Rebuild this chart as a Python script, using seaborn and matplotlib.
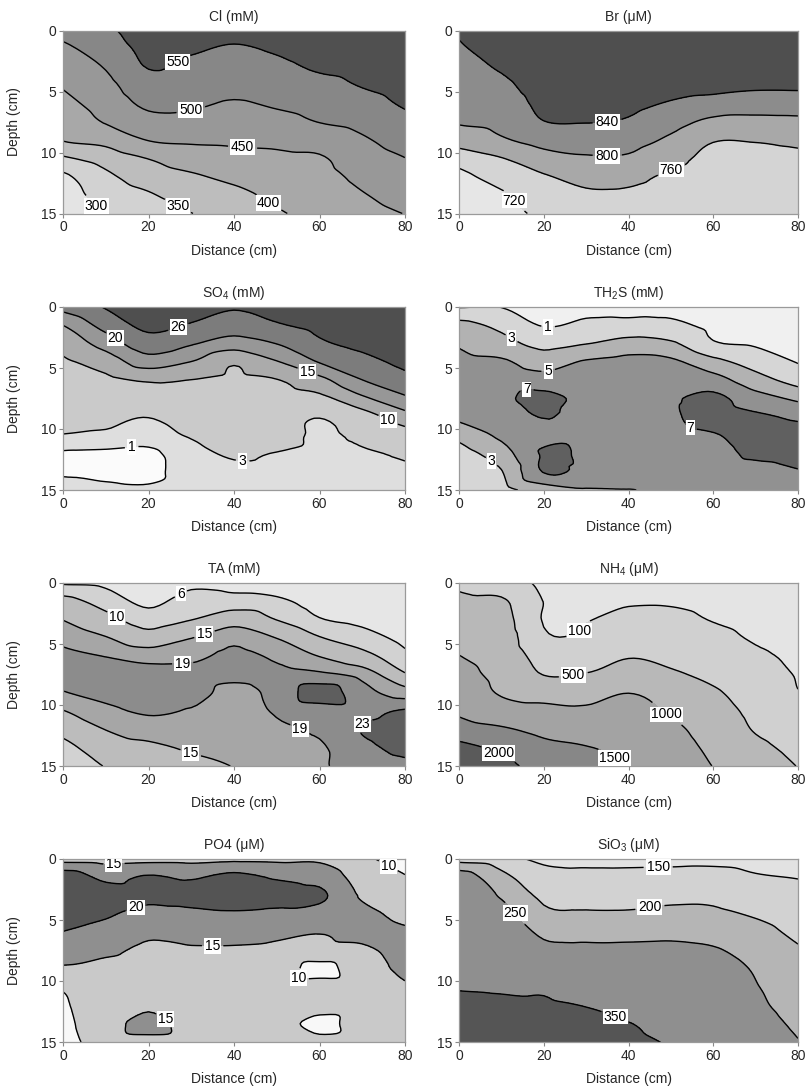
import numpy as np
import pandas as pd
import matplotlib
matplotlib.use("Agg")
import matplotlib.pyplot as plt
import matplotlib.tri as mtri
import seaborn as sns

# ---------------- data ----------------
distance = [0, 10, 20, 30, 40, 50, 60, 70, 80]            # cm
depth = [0, 1.5, 3, 4.5, 6, 7.5, 9, 10.5, 12, 13.5, 15]    # cm

cl_levels = [300, 350, 400, 450, 500, 550]
cl_values = [
    [515, 540, 575, 575, 565, 575, 590, 590, 600],
    [491, 521, 563, 556, 545, 556, 572, 575, 585],
    [472, 503, 552, 539, 529, 539, 556, 562, 575],
    [454, 486, 531, 523, 513, 522, 537, 552, 565],
    [436, 470, 510, 507, 496, 506, 519, 534, 555],
    [419, 453, 483, 485, 477, 484, 501, 514, 537],
    [402, 415, 451, 457, 458, 460, 470, 494, 519],
    [342, 371, 401, 424, 435, 441, 445, 478, 499],
    [290, 339, 373, 393, 411, 426, 435, 461, 483],
    [275, 320, 345, 371, 387, 410, 425, 447, 467],
    [260, 301, 335, 349, 375, 395, 415, 435, 451],
]

br_levels = [720, 760, 800, 840]
br_values = [
    [845, 870, 880, 880, 880, 880, 880, 880, 880],
    [835, 857, 872, 872, 872, 872, 870, 870, 870],
    [827, 844, 864, 864, 865, 862, 860, 858, 858],
    [819, 832, 856, 857, 857, 851, 850, 846, 846],
    [811, 821, 848, 850, 848, 837, 827, 820, 821],
    [803, 810, 839, 841, 836, 815, 790, 788, 790],
    [778, 795, 814, 818, 815, 792, 762, 762, 766],
    [735, 758, 784, 795, 794, 770, 752, 752, 755],
    [710, 735, 756, 770, 768, 755, 750, 750, 751],
    [700, 715, 743, 755, 755, 750, 749, 749, 749],
    [690, 705, 729, 745, 745, 745, 748, 748, 748],
]

so4_levels = [1, 3, 10, 15, 20, 26]
so4_values = [
    [22.0, 26.5, 29.0, 28.0, 26.5, 27.0, 29.0, 30.0, 31.0],
    [15.0, 22.0, 27.5, 25.5, 23.0, 25.5, 27.5, 29.0, 30.0],
    [11.6, 17.0, 23.2, 20.5, 17.5, 20.1, 25.0, 27.5, 29.0],
    [9.2, 12.2, 17.5, 14.9, 10.6, 14.7, 20.3, 24.0, 27.5],
    [8.2, 8.9, 10.5, 9.9, 9.0, 9.8, 13.5, 19.9, 24.0],
    [6.6, 6.6, 6.6, 8.5, 7.5, 8.3, 8.6, 14.0, 19.0],
    [4.4, 4.2, 3.1, 6.0, 5.5, 6.4, 3.2, 7.5, 13.0],
    [2.9, 2.5, 2.0, 3.3, 4.4, 4.7, 2.4, 4.2, 7.5],
    [0.8, 0.7, 0.6, 2.3, 3.3, 2.9, 2.2, 2.6, 3.6],
    [0.9, 0.6, 0.5, 2.0, 2.6, 2.5, 2.1, 2.3, 2.5],
    [1.3, 1.4, 1.3, 1.9, 2.3, 2.3, 2.0, 2.1, 2.2],
]

th2s_levels = [1, 3, 5, 7]
th2s_values = [
    [0.9, 0.95, 0.3, 0.5, 0.5, 0.6, 0.3, 0.2, 0.1],
    [3.6, 2.5, 0.9, 1.4, 1.5, 1.4, 0.6, 0.4, 0.2],
    [4.8, 3.7, 2.4, 2.95, 3.8, 3.3, 1.2, 0.8, 0.4],
    [5.5, 5.3, 4.1, 5.2, 5.6, 5.4, 3.6, 2.2, 0.9],
    [6.0, 6.2, 5.8, 6.3, 6.4, 6.3, 5.8, 3.8, 2.2],
    [6.0, 6.6, 7.6, 6.5, 6.6, 6.8, 7.5, 5.8, 4.6],
    [5.4, 6.3, 7.05, 6.5, 6.6, 6.8, 7.6, 7.3, 6.7],
    [3.6, 5.4, 6.4, 6.5, 6.5, 6.5, 6.9, 7.5, 7.6],
    [2.2, 4.1, 7.2, 6.7, 6.3, 6.3, 6.5, 7.3, 7.6],
    [1.5, 2.9, 7.1, 6.5, 5.9, 6.0, 6.3, 6.4, 6.9],
    [1.2, 2.3, 3.8, 4.8, 4.95, 5.6, 6.0, 6.0, 6.3],
]

ta_levels = [6, 10, 15, 19, 23]
ta_values = [
    [5.5, 5.0, 3.5, 5.0, 4.5, 4.0, 3.5, 3.0, 2.5],
    [11.5, 8.3, 5.0, 7.8, 7.5, 6.8, 4.5, 3.8, 3.0],
    [14.9, 11.5, 8.0, 9.9, 13.0, 9.9, 6.3, 5.0, 3.8],
    [17.8, 15.3, 12.0, 14.9, 17.8, 14.9, 10.3, 7.8, 4.8],
    [19.8, 18.9, 17.5, 18.0, 20.0, 18.2, 14.9, 11.5, 7.0],
    [20.2, 20.5, 20.5, 20.2, 19.8, 20.0, 19.8, 17.5, 10.5],
    [18.8, 20.0, 20.6, 20.3, 18.0, 20.2, 25.0, 20.5, 17.0],
    [14.8, 18.0, 19.5, 18.7, 17.5, 19.4, 21.0, 22.0, 23.5],
    [11.5, 15.1, 17.0, 17.5, 16.8, 18.4, 19.6, 23.2, 25.0],
    [8.5, 12.5, 14.0, 15.5, 16.0, 17.5, 18.5, 22.0, 24.0],
    [7.0, 10.2, 12.5, 14.0, 15.1, 17.0, 18.5, 21.0, 22.0],
]

nh4_levels = [100, 500, 1000, 1500, 2000]
nh4_values = [
    [420, 250, 60, 50, 40, 40, 30, 20, 20],
    [590, 560, 95, 70, 80, 80, 50, 30, 25],
    [700, 650, 80, 90, 170, 160, 90, 50, 35],
    [850, 720, 150, 150, 300, 270, 170, 80, 50],
    [1010, 790, 340, 330, 480, 400, 280, 140, 65],
    [1150, 870, 490, 520, 650, 560, 400, 220, 85],
    [1280, 960, 800, 820, 995, 800, 560, 300, 110],
    [1430, 1200, 1150, 1080, 1150, 950, 700, 390, 200],
    [1700, 1560, 1380, 1300, 1280, 1100, 800, 470, 300],
    [2150, 1900, 1620, 1520, 1400, 1200, 900, 600, 400],
    [2400, 2150, 1800, 1700, 1490, 1300, 990, 700, 490],
]

po4_levels = [10, 15, 20]
po4_values = [
    [13.0, 13.0, 13.5, 13.5, 14.0, 14.0, 14.2, 11.0, 8.0],
    [23.0, 19.0, 20.5, 19.5, 21.5, 19.5, 18.0, 13.0, 10.3],
    [22.0, 21.5, 21.0, 21.5, 22.0, 21.5, 21.0, 14.5, 12.0],
    [21.5, 20.5, 18.5, 19.0, 19.5, 19.0, 18.0, 16.0, 14.0],
    [19.9, 18.5, 16.0, 16.5, 16.5, 16.0, 15.2, 16.0, 15.5],
    [17.0, 16.0, 14.0, 14.5, 14.5, 14.0, 13.5, 14.3, 16.0],
    [14.5, 13.5, 13.0, 13.0, 13.0, 12.5, 8.5, 13.0, 15.8],
    [10.5, 12.5, 13.0, 12.5, 12.5, 12.0, 12.0, 12.5, 14.5],
    [9.5, 12.5, 14.0, 12.5, 12.5, 12.0, 12.0, 12.5, 13.0],
    [9.0, 12.5, 17.0, 12.5, 12.0, 12.0, 8.5, 12.5, 12.5],
    [8.5, 12.0, 13.0, 12.5, 12.0, 12.0, 11.5, 12.5, 12.5],
]

sio3_levels = [150, 200, 250, 350]
sio3_values = [
    [180, 170, 140, 135, 135, 135, 135, 130, 120],
    [280, 215, 170, 165, 165, 168, 170, 155, 148],
    [290, 245, 190, 185, 185, 190, 190, 175, 165],
    [295, 270, 210, 205, 205, 210, 208, 195, 178],
    [302, 290, 240, 235, 235, 238, 232, 215, 190],
    [310, 305, 265, 262, 262, 262, 255, 230, 205],
    [325, 320, 300, 290, 285, 280, 275, 245, 215],
    [345, 340, 340, 320, 305, 300, 290, 253, 225],
    [370, 365, 358, 348, 325, 315, 300, 260, 233],
    [380, 375, 370, 365, 352, 330, 310, 270, 242],
    [385, 380, 375, 370, 362, 345, 320, 280, 252],
]

titles = ["Cl (mM)", "Br (\u03bcM)", "SO$_4$ (mM)", "TH$_2$S (mM)",
          "TA (mM)", "NH$_4$ (\u03bcM)", "PO4 (\u03bcM)", "SiO$_3$ (\u03bcM)"]
x_ticks = [0, 20, 40, 60, 80]
y_ticks = [0, 5, 10, 15]

# ---------------- styles / label positions ----------------
band_colors = {
    "cl":   ["#e4e4e4", "#d2d2d2", "#bdbdbd", "#a8a8a8", "#989898", "#878787", "#505050"],
    "br":   ["#e6e6e6", "#d4d4d4", "#a8a8a8", "#8c8c8c", "#4f4f4f"],
    "so4":  ["#fbfbfb", "#dedede", "#cacaca", "#ababab", "#979797", "#7c7c7c", "#4f4f4f"],
    "th2s": ["#f0f0f0", "#d6d6d6", "#b2b2b2", "#919191", "#606060"],
    "ta":   ["#e6e6e6", "#d2d2d2", "#bcbcbc", "#a6a6a6", "#8c8c8c", "#5e5e5e"],
    "nh4":  ["#e4e4e4", "#d0d0d0", "#b8b8b8", "#a3a3a3", "#878787", "#5a5a5a"],
    "po4":  ["#f8f8f8", "#c9c9c9", "#8f8f8f", "#545454"],
    "sio3": ["#e2e2e2", "#d2d2d2", "#b5b5b5", "#8f8f8f", "#555555"],
}
label_spots = {
    "cl":   [(27, 2.7), (30, 6.7), (42, 9.6), (48, 14.2), (27, 14.3), (8, 14.3)],
    "br":   [(35, 7.6), (35, 10.2), (50, 11.3), (12, 14.2)],
    "so4":  [(27, 1.7), (12, 2.7), (57, 5.5), (76, 9.3), (42, 12.7), (16, 11.3)],
    "th2s": [(21, 1.8), (12, 2.8), (21, 5.0), (16, 6.8), (55, 9.5), (8, 12.5)],
    "ta":   [(28, 1.2), (13, 2.5), (33, 4.1), (28, 6.6), (55, 12.3), (70, 11.5), (30, 13.8)],
    "nh4":  [(28, 3.8), (27, 7.6), (50, 10.2), (37, 14.2), (10, 13.4)],
    "po4":  [(12, 0.8), (17, 3.9), (35, 7.3), (55, 9.8), (25, 12.5), (75, 1.3)],
    "sio3": [(47, 0.9), (45, 3.8), (13, 4.5), (37, 12.8)],
}

panels = [
    ("cl", cl_values, cl_levels),
    ("br", br_values, br_levels),
    ("so4", so4_values, so4_levels),
    ("th2s", th2s_values, th2s_levels),
    ("ta", ta_values, ta_levels),
    ("nh4", nh4_values, nh4_levels),
    ("po4", po4_values, po4_levels),
    ("sio3", sio3_values, sio3_levels),
]

sns.set_theme(style="white")
plt.rcParams["font.family"] = ["Liberation Sans", "DejaVu Sans"]
plt.rcParams["mathtext.fontset"] = "custom"
plt.rcParams["mathtext.rm"] = "Liberation Sans"
plt.rcParams["mathtext.it"] = "Liberation Sans:italic"
plt.rcParams["mathtext.default"] = "regular"

W, H = 806, 1092
fig = plt.figure(figsize=(W / 100, H / 100), dpi=100)
fig.patch.set_facecolor("white")

col_left = [63, 459]
col_width = [342, 339]
row_top = [30.5, 307, 583, 859]
ax_h = 183

for i, (key, vals, levels) in enumerate(panels):
    r, c = divmod(i, 2)
    ax = fig.add_axes([col_left[c] / W, 1 - (row_top[r] + ax_h) / H,
                       col_width[c] / W, ax_h / H])
    df = pd.DataFrame(vals, index=depth, columns=distance)
    Z = df.values.astype(float)
    X, Y = np.meshgrid(df.columns.values, df.index.values)
    # library-side smoothing of the read grid (matplotlib.tri refiner)
    tri = mtri.Triangulation(X.ravel() / 10.0, Y.ravel() / 1.5)
    refiner = mtri.UniformTriRefiner(tri)
    interp = mtri.CubicTriInterpolator(tri, Z.ravel(), kind="geom")
    tri_f, z_f = refiner.refine_field(Z.ravel(), subdiv=3, triinterpolator=interp)
    tri_f = mtri.Triangulation(tri_f.x * 10.0, tri_f.y * 1.5, tri_f.triangles)
    bounds = [min(z_f.min(), Z.min()) - 1.0] + list(levels) + [max(z_f.max(), Z.max()) + 1.0]
    ax.tricontourf(tri_f, z_f, levels=bounds, colors=band_colors[key])
    cs = ax.tricontour(tri_f, z_f, levels=levels, colors="black", linewidths=1.0)
    texts = ax.clabel(cs, fmt="%g", manual=label_spots[key], inline=True,
                      inline_spacing=3, fontsize=10)
    for t in texts:
        t.set_rotation(0)
        t.set_bbox(dict(facecolor="white", edgecolor="none", pad=0.6))
    ax.set_xlim(0, 80)
    ax.set_ylim(15, 0)
    ax.set_xticks(x_ticks)
    ax.set_xticks([10, 30, 50, 70], minor=True)
    ax.set_yticks(y_ticks)
    ax.tick_params(axis="both", which="major", direction="out", length=3,
                   width=0.8, color="#888888", labelsize=10, pad=2,
                   bottom=True, left=True)
    ax.tick_params(axis="x", which="minor", direction="in", length=2,
                   width=0.6, color="#888888", bottom=True)
    for s in ax.spines.values():
        s.set_color("#9a9a9a")
        s.set_linewidth(0.9)
    ax.set_xlabel("Distance (cm)", fontsize=10)
    ax.xaxis.set_label_coords(0.5, -37.5 / ax_h)
    ax.xaxis.label.set_va("center")
    if c == 0:
        ax.set_ylabel("Depth (cm)", fontsize=10)
        ax.yaxis.set_label_coords((14 - col_left[c]) / col_width[c], 0.5)
        ax.yaxis.label.set_va("center")
    ax.text(0.5, 1 + 13.5 / ax_h, titles[i], transform=ax.transAxes,
            ha="center", va="center", fontsize=10)

fig.savefig("out.png", dpi=100, facecolor="white")
